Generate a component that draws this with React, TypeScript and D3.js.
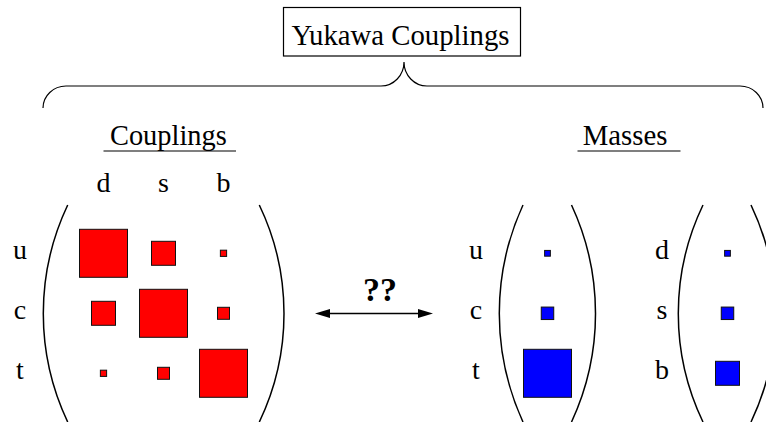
import React from "react";
import * as d3 from "d3";

// ---- data ----
const couplingCols = ["d", "s", "b"];
const upRows = ["u", "c", "t"];
const downRows = ["d", "s", "b"];
// relative magnitudes (square side ∝ value)
const couplingValues = [
  [1, 0.5, 0.13],
  [0.5, 1, 0.25],
  [0.13, 0.25, 1],
];
const upMasses = [0.12, 0.26, 1];
const downMasses = [0.12, 0.26, 0.5];
const titleText = "Yukawa Couplings";
const leftTitle = "Couplings";
const rightTitle = "Masses";
const arrowLabel = "??";

const W = 766;
const H = 422;
const FONT = "'Liberation Serif', 'Times New Roman', serif";

function parenPath(xEnd: number, xMid: number, yTop: number, yBot: number, left: boolean) {
  const h = (yBot - yTop) / 2;
  const s = Math.abs(xMid - xEnd);
  const r = (h * h) / (2 * s) + s / 2;
  return `M${xEnd},${yTop} A${r},${r} 0 0 ${left ? 0 : 1} ${xEnd},${yBot}`;
}

export default function App() {
  const xCoup = d3.scalePoint<string>().domain(couplingCols).range([103.5, 223.5]);
  const yRow = d3.scalePoint<number>().domain([0, 1, 2]).range([253.3, 373.3]);
  const side = d3.scaleLinear().domain([0, 1]).range([0, 48]);
  const xMass = d3.scalePoint<string>().domain(["up", "down"]).range([547.5, 727.5]);
  const xMassLabel = d3.scalePoint<string>().domain(["up", "down"]).range([476, 662]);

  const parenTop = 205;
  const parenBot = 422;

  const brace =
    "M43,108 A23,22 0 0 1 66,86 L381,86 A23,24 0 0 0 404,62 A23,24 0 0 0 427,86 L740,86 A23,22 0 0 1 763,108";

  const arrowY = 313.5;
  const ax0 = 315;
  const ax1 = 433;
  const ah = 15;
  const aw = 4.5;

  const sq = (cx: number, cy: number, v: number, fill: string, key: string) => {
    const s = side(v);
    return (
      <rect
        key={key}
        x={cx - s / 2}
        y={cy - s / 2}
        width={s}
        height={s}
        fill={fill}
        stroke="#111"
        strokeWidth={1}
      />
    );
  };

  return (
    <svg
      width={W}
      height={H}
      style={{ position: "absolute", left: 0, top: 0, background: "#fff" }}
      fontFamily={FONT}
    >
      <rect x={0} y={0} width={W} height={H} fill="#fff" />
      {/* title box */}
      <rect x={283.5} y={7.5} width={237} height={48.5} fill="none" stroke="#000" strokeWidth={1.2} />
      <text x={291.5} y={44.5} fontSize={30} textLength={218} lengthAdjust="spacingAndGlyphs" fill="#000">
        {titleText}
      </text>
      {/* brace */}
      <path d={brace} fill="none" stroke="#000" strokeWidth={1.2} />

      {/* sub titles */}
      <text x={110} y={145} fontSize={30} textLength={116.7} lengthAdjust="spacingAndGlyphs">
        {leftTitle}
      </text>
      <line x1={103.5} x2={236} y1={151} y2={151} stroke="#000" strokeWidth={1.2} />
      <text x={582.7} y={145} fontSize={30} textLength={84.7} lengthAdjust="spacingAndGlyphs">
        {rightTitle}
      </text>
      <line x1={577.5} x2={680.5} y1={151} y2={151} stroke="#000" strokeWidth={1.2} />

      {/* coupling matrix */}
      {couplingCols.map((c) => (
        <text key={"cl" + c} x={xCoup(c)} y={192.3} fontSize={28} textAnchor="middle">
          {c}
        </text>
      ))}
      {upRows.map((r, i) => (
        <text key={"rl" + r} x={20} y={(yRow(i) as number) + 6} fontSize={28} textAnchor="middle">
          {r}
        </text>
      ))}
      {couplingValues.map((row, i) =>
        row.map((v, j) => sq(xCoup(couplingCols[j]) as number, yRow(i) as number, v, "#ff0000", `c${i}${j}`))
      )}
      <path d={parenPath(67.7, 43.3, parenTop, parenBot, true)} fill="none" stroke="#000" strokeWidth={1.5} />
      <path d={parenPath(259.3, 284, parenTop, parenBot, false)} fill="none" stroke="#000" strokeWidth={1.5} />

      {/* arrow */}
      <line x1={ax0 + ah - 2} x2={ax1 - ah + 2} y1={arrowY} y2={arrowY} stroke="#000" strokeWidth={1.5} />
      <path d={`M${ax0},${arrowY} L${ax0 + ah},${arrowY - aw} L${ax0 + ah},${arrowY + aw} Z`} fill="#000" />
      <path d={`M${ax1},${arrowY} L${ax1 - ah},${arrowY - aw} L${ax1 - ah},${arrowY + aw} Z`} fill="#000" />
      <text x={380} y={300.7} fontSize={34} fontWeight="bold" textAnchor="middle">
        {arrowLabel}
      </text>

      {/* up masses */}
      {upRows.map((r, i) => (
        <text key={"ul" + r} x={xMassLabel("up")} y={(yRow(i) as number) + 6} fontSize={28} textAnchor="middle">
          {r}
        </text>
      ))}
      {upMasses.map((v, i) => sq(xMass("up") as number, yRow(i) as number, v, "#0000ff", "u" + i))}
      <path d={parenPath(523, 499.3, parenTop, parenBot, true)} fill="none" stroke="#000" strokeWidth={1.5} />
      <path d={parenPath(571.5, 595.5, parenTop, parenBot, false)} fill="none" stroke="#000" strokeWidth={1.5} />

      {/* down masses */}
      {downRows.map((r, i) => (
        <text key={"dl" + r} x={xMassLabel("down")} y={(yRow(i) as number) + 6} fontSize={28} textAnchor="middle">
          {r}
        </text>
      ))}
      {downMasses.map((v, i) => sq(xMass("down") as number, yRow(i) as number, v, "#0000ff", "d" + i))}
      <path d={parenPath(703, 678.3, parenTop, parenBot, true)} fill="none" stroke="#000" strokeWidth={1.5} />
      <path d={parenPath(751, 775.5, parenTop, parenBot, false)} fill="none" stroke="#000" strokeWidth={1.5} />
    </svg>
  );
}
